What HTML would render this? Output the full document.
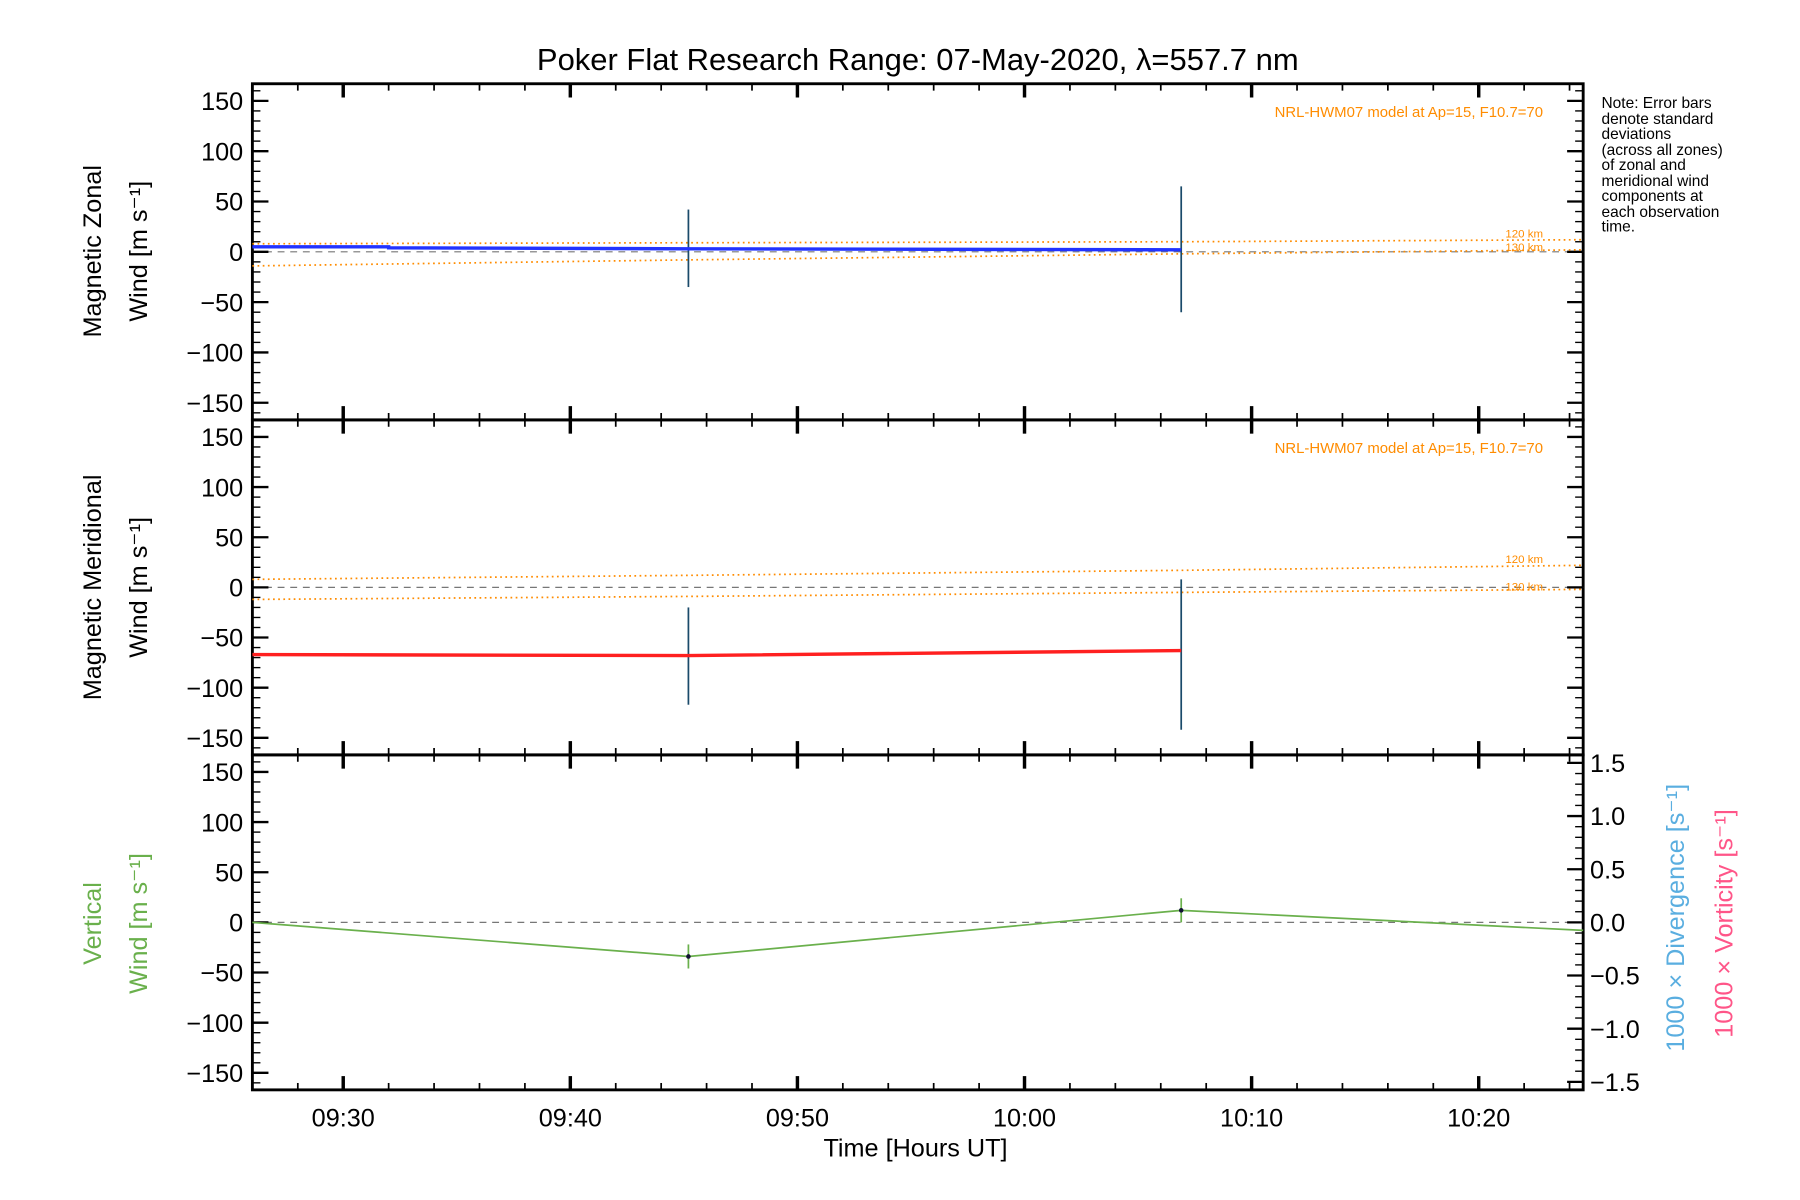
<!DOCTYPE html>
<html><head><meta charset="utf-8"><style>
html,body{margin:0;padding:0;background:#fff;}
svg{display:block;font-family:"Liberation Sans",sans-serif;}
</style></head><body>
<svg id="chart" width="1800" height="1200" viewBox="0 0 1569 1046" preserveAspectRatio="none" xmlns="http://www.w3.org/2000/svg">
<text x="800" y="61" font-size="27" text-anchor="middle">Poker Flat Research Range: 07-May-2020, λ=557.7 nm</text>
<text font-size="13.5" x="1396">
<tspan x="1396" y="94">Note: Error bars</tspan><tspan x="1396" y="108">denote standard</tspan><tspan x="1396" y="121">deviations</tspan><tspan x="1396" y="135">(across all zones)</tspan><tspan x="1396" y="148">of zonal and</tspan><tspan x="1396" y="162">meridional wind</tspan><tspan x="1396" y="175">components at</tspan><tspan x="1396" y="189">each observation</tspan><tspan x="1396" y="202">time.</tspan></text>
<g id="g"></g>
<text x="798" y="1008" font-size="22" text-anchor="middle">Time [Hours UT]</text>
<g font-size="22" text-anchor="middle">
<text transform="translate(88,219) rotate(-90)">Magnetic Zonal</text>
<text transform="translate(128,219) rotate(-90)">Wind [m s⁻¹]</text></g>
<g font-size="22" text-anchor="middle">
<text transform="translate(88,512) rotate(-90)">Magnetic Meridional</text>
<text transform="translate(128,512) rotate(-90)">Wind [m s⁻¹]</text></g>
<g font-size="22" text-anchor="middle" fill="#6ab04c">
<text transform="translate(88,805) rotate(-90)">Vertical</text>
<text transform="translate(128,805) rotate(-90)">Wind [m s⁻¹]</text></g>
<text transform="translate(1468,800) rotate(-90)" font-size="22" text-anchor="middle" fill="#5aaee0">1000 × Divergence [s⁻¹]</text>
<text transform="translate(1510,805) rotate(-90)" font-size="22" text-anchor="middle" fill="#ff5588">1000 × Vorticity [s⁻¹]</text>
</svg>
<script>
// data (times in minutes after 09:00)
const obsTimes=[45.2,66.9];
const zonalLineT=[26,32,32,45.2,66.9];
const zonalLineV=[5,5,4,3,2];
const zonalErrHi=[42,65];
const zonalErrLo=[-35,-60];
const meridLineT=[26,45.2,66.9];
const meridLineV=[-67,-68,-63];
const meridErrHi=[-20,8];
const meridErrLo=[-117,-142];
const vertT=[26,45.2,66.9,84.6];
const vertV=[0,-34,12,-8];
const vertErr=[12,12];
const zonal120=[8,9,10,12];
const zonal130=[-14,-8,-2,2];
const merid120=[8,12,17,22];
const merid130=[-12,-9,-5,-2];
const modelT=[26,45.2,66.9,84.6];
const yTicks=[150,100,50,0,-50,-100,-150];
const rTicks=[1.5,1.0,0.5,0.0,-0.5,-1.0,-1.5];
const xTickMin=[30,40,50,60,70,80];
const xTickLabels=["09:30","09:40","09:50","10:00","10:10","10:20"];

const NS="http://www.w3.org/2000/svg";
const g=document.getElementById('g');
const L=220,R=1380,panels=[[73,366],[366,658],[658,950]];
const t0=26,t1=84.6;
function X(t){return L+(t-t0)/(t1-t0)*(R-L);}
function Yp(p,v){const [a,b]=panels[p];const mid=(a+b)/2;return mid-v/167*((b-a)/2);}
function el(tag,attrs,parent){const e=document.createElementNS(NS,tag);for(const k in attrs)e.setAttribute(k,attrs[k]);(parent||g).appendChild(e);return e;}
function poly(p,ts,vs,stroke,w,dash,name){
  const pts=ts.map((t,i)=>X(t)+','+Yp(p,vs[i])).join(' ');
  const e=el('polyline',{points:pts,fill:'none',stroke:stroke,'stroke-width':w});
  if(dash)e.setAttribute('stroke-dasharray',dash);
  
  
  return e;
}
panels.forEach((pn,p)=>{
  const [a,b]=pn;
  const fr=el('rect',{x:L,y:a,width:R-L,height:b-a,fill:'none',stroke:'#000','stroke-width':2.5});
  
  
  const z=el('line',{x1:L,x2:R,y1:Yp(p,0),y2:Yp(p,0),stroke:'#777','stroke-width':1,'stroke-dasharray':'6,5'});
  
  
  for(let v=-160;v<=160;v+=10){
    const y=Yp(p,v);const maj=v%50===0;const len=maj?14:7;
    el('line',{x1:L,x2:L+len,y1:y,y2:y,stroke:'#000','stroke-width':maj?2:1.2});
    if(p<2) el('line',{x1:R,x2:R-len,y1:y,y2:y,stroke:'#000','stroke-width':maj?2:1.2});
  }
  yTicks.forEach(v=>{
    const t=el('text',{x:212,y:Yp(p,v)+8,'font-size':22,'text-anchor':'end'});
    t.textContent=v<0?'−'+(-v):String(v);
    
    
  });
  for(let m=26;m<=84;m+=2){
    const x=X(m);const maj=m%10===0;const len=maj?12:6;
    el('line',{x1:x,x2:x,y1:b,y2:b-len,stroke:'#000','stroke-width':maj?3:1.5});
    el('line',{x1:x,x2:x,y1:a,y2:a+len,stroke:'#000','stroke-width':maj?3:1.5});
  }
});
rTicks.forEach(v=>{
  const y=804-v/1.5*139;
  el('line',{x1:R,x2:R-14,y1:y,y2:y,stroke:'#000','stroke-width':2});
  const t=el('text',{x:1386,y:y+8,'font-size':22});
  t.textContent=v<0?'−'+(-v).toFixed(1):v.toFixed(1);
  
  
});
for(let v=-1.5;v<=1.51;v+=0.1){const y=804-v/1.5*139;el('line',{x1:R,x2:R-7,y1:y,y2:y,stroke:'#000','stroke-width':1.2});}
xTickMin.forEach((m,i)=>{
  const t=el('text',{x:X(m),y:982,'font-size':22,'text-anchor':'middle'});
  t.textContent=xTickLabels[i];
  
  
});
poly(0,modelT,zonal120,'#ff8c00',1.5,'1.5,3','model-120km-zonal');
poly(0,modelT,zonal130,'#ff8c00',1.5,'1.5,3','model-130km-zonal');
poly(1,modelT,merid120,'#ff8c00',1.5,'1.5,3','model-120km-meridional');
poly(1,modelT,merid130,'#ff8c00',1.5,'1.5,3','model-130km-meridional');
[[0,zonal120,zonal130],[1,merid120,merid130]].forEach(([p,a,b])=>{
  const t1e=el('text',{x:1345,y:Yp(p,a[3])-2,'font-size':10,fill:'#ff8c00','text-anchor':'end'});t1e.textContent='120 km';
  
  const t2e=el('text',{x:1345,y:Yp(p,b[3])+1,'font-size':10,fill:'#ff8c00','text-anchor':'end'});t2e.textContent='130 km';
  
  const n=el('text',{x:1345,y:panels[p][0]+29,'font-size':13,fill:'#ff8c00','text-anchor':'end'});n.textContent='NRL-HWM07 model at Ap=15, F10.7=70';
  
});
obsTimes.forEach((t,i)=>{
  [[0,zonalErrHi[i],zonalErrLo[i]],[1,meridErrHi[i],meridErrLo[i]],[2,vertV[i+1]+vertErr[i],vertV[i+1]-vertErr[i]]].forEach(([p,h,l])=>{
    const e=el('line',{x1:X(t),x2:X(t),y1:Yp(p,h),y2:Yp(p,l),stroke:p===2?'#6ab04c':'#1a4a6a','stroke-width':1.5});
    
    
  });
});
poly(0,zonalLineT,zonalLineV,'#2233ff',3,null,'zonal-wind-line');
poly(1,meridLineT,meridLineV,'#ff2020',3,null,'meridional-wind-line');
poly(2,vertT,vertV,'#6ab04c',1.5,null,'vertical-wind-line');
obsTimes.forEach((t,i)=>{
  const c=el('circle',{cx:X(t),cy:Yp(2,vertV[i+1]),r:2,fill:'#113'});
  
  
});
</script>
</body></html>
